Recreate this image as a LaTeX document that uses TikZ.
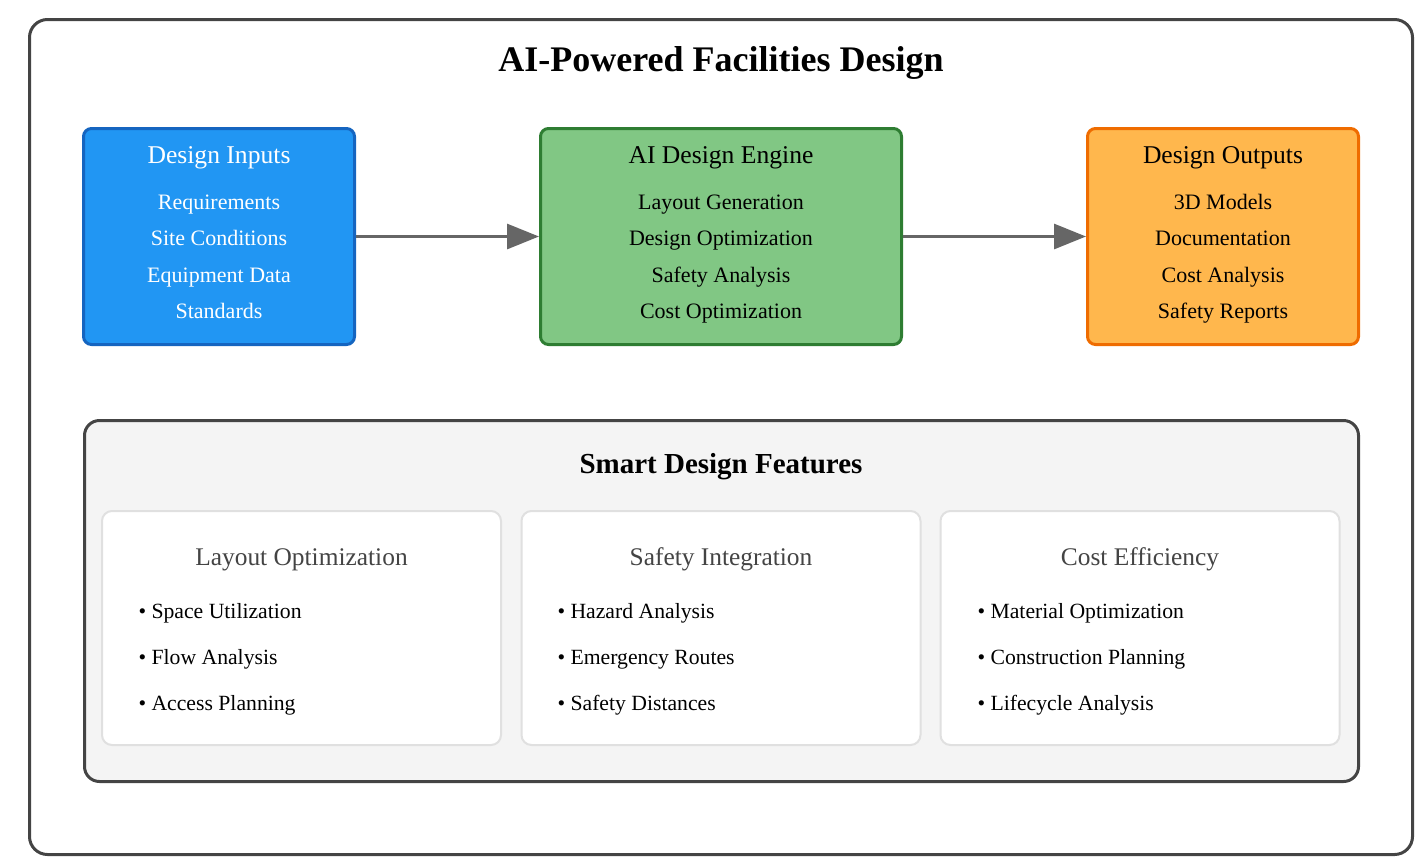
\documentclass[tikz,border=0pt]{standalone}
\usepackage{fontspec}
\setmainfont{Liberation Serif}
\usetikzlibrary{arrows.meta}

\definecolor{framegray}{HTML}{444444}
\definecolor{arrowgray}{HTML}{666666}
\definecolor{infill}{HTML}{2196F3}
\definecolor{indraw}{HTML}{1565C0}
\definecolor{enginefill}{HTML}{81C784}
\definecolor{enginedraw}{HTML}{2E7D32}
\definecolor{outfill}{HTML}{FFB74D}
\definecolor{outdraw}{HTML}{EF6C00}
\definecolor{panelfill}{HTML}{F4F4F4}
\definecolor{carddraw}{HTML}{E0E0E0}
\definecolor{cardtitle}{HTML}{444444}

\begin{document}
\begin{tikzpicture}[x=1pt,y=-1pt,
outerframe/.style={draw=framegray,line width=3pt,rounded corners=18pt,minimum width=1383pt,minimum height=835pt,inner sep=0pt},
stagebox/.style={rectangle,rounded corners=8pt,line width=3pt,minimum height=216pt,inner sep=0pt},
panel/.style={draw=framegray,fill=panelfill,line width=3pt,rounded corners=15pt,minimum width=1274pt,minimum height=361pt,inner sep=0pt},
card/.style={draw=carddraw,fill=white,line width=2pt,rounded corners=10pt,minimum width=399pt,minimum height=234pt,inner sep=0pt},
maintitle/.style={font=\bfseries\fontsize{36}{40}\selectfont,anchor=mid,yshift=-9.5pt},
paneltitle/.style={font=\bfseries\fontsize{29}{32}\selectfont,anchor=mid,yshift=-7.5pt},
boxtitle/.style={font=\fontsize{25.6}{29}\selectfont,anchor=mid,yshift=-6.5pt},
boxitem/.style={font=\fontsize{22}{25}\selectfont,anchor=mid,yshift=-6pt},
cardhead/.style={font=\fontsize{25.4}{29}\selectfont,text=cardtitle,anchor=mid,yshift=-6.5pt},
carditem/.style={font=\fontsize{21.7}{25}\selectfont,anchor=mid west,yshift=-5.5pt},
flow/.style={draw=arrowgray,line width=3pt,-{Triangle[length=32pt,width=25pt]}}]

\useasboundingbox (0,0) rectangle (1426,863);

\draw (721,437) node[outerframe] (frame) {};
\draw (721,60) node[maintitle] (title) {AI-Powered Facilities Design};

% the three stages
\draw (219,236.5) node[stagebox,fill=infill,draw=indraw,minimum width=271pt] (inputs) {};
\draw (721,236.5) node[stagebox,fill=enginefill,draw=enginedraw,minimum width=361pt] (engine) {};
\draw (1223,236.5) node[stagebox,fill=outfill,draw=outdraw,minimum width=271pt] (outputs) {};

\draw (219,155) node[boxtitle,text=white] (inT) {Design Inputs};
\draw (219,201) node[boxitem,text=white] (in1) {Requirements};
\draw (219,237) node[boxitem,text=white] (in2) {Site Conditions};
\draw (219,274) node[boxitem,text=white] (in3) {Equipment Data};
\draw (219,310) node[boxitem,text=white] (in4) {Standards};

\draw (721,155) node[boxtitle] (enT) {AI Design Engine};
\draw (721,201) node[boxitem] (en1) {Layout Generation};
\draw (721,237) node[boxitem] (en2) {Design Optimization};
\draw (721,274) node[boxitem] (en3) {Safety Analysis};
\draw (721,310) node[boxitem] (en4) {Cost Optimization};

\draw (1223,155) node[boxtitle] (outT) {Design Outputs};
\draw (1223,201) node[boxitem] (out1) {3D Models};
\draw (1223,237) node[boxitem] (out2) {Documentation};
\draw (1223,274) node[boxitem] (out3) {Cost Analysis};
\draw (1223,310) node[boxitem] (out4) {Safety Reports};

\draw[flow] (inputs.east) -- (engine.west);
\draw[flow] (engine.east) -- (outputs.west);

% features panel
\draw (721.5,601) node[panel] (features) {};
\draw (721,464) node[paneltitle] (featT) {Smart Design Features};

\draw (301.5,628) node[card] (layout) {};
\draw (721,628) node[card] (safety) {};
\draw (1140,628) node[card] (cost) {};

\draw (301.5,557) node[cardhead] (layT) {Layout Optimization};
\draw (135,611) node[carditem] (lay1) {• Space Utilization};
\draw (135,657) node[carditem] (lay2) {• Flow Analysis};
\draw (135,703) node[carditem] (lay3) {• Access Planning};

\draw (721,557) node[cardhead] (safT) {Safety Integration};
\draw (554,611) node[carditem] (saf1) {• Hazard Analysis};
\draw (554,657) node[carditem] (saf2) {• Emergency Routes};
\draw (554,703) node[carditem] (saf3) {• Safety Distances};

\draw (1140,557) node[cardhead] (cosT) {Cost Efficiency};
\draw (974,611) node[carditem] (cos1) {• Material Optimization};
\draw (974,657) node[carditem] (cos2) {• Construction Planning};
\draw (974,703) node[carditem] (cos3) {• Lifecycle Analysis};
\end{tikzpicture}
\end{document}
